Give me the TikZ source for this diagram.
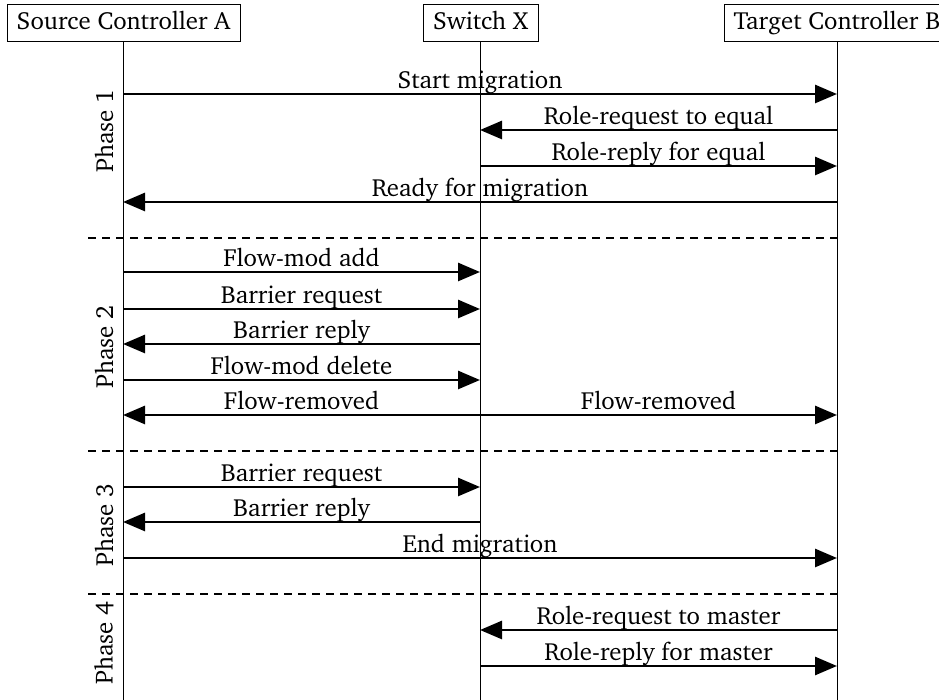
\documentclass[tikz,border=0pt]{standalone}
\usepackage[T1]{fontenc}
\usepackage{charter}
\usetikzlibrary{arrows.meta}
\begin{document}
\begin{tikzpicture}[x=0.5pt,y=-0.5pt,
  every node/.style={font=\fontsize{12.4}{14}\selectfont},
  actor/.style={draw,line width=0.5pt,inner sep=0pt,minimum height=18.5pt,text height=8.6pt,text depth=2.4pt},
  lifeline/.style={line width=0.5pt},
  msg/.style={line width=1.4pt,-{Triangle[length=11pt,width=9pt]}},
  lbl/.style={anchor=base,inner sep=0pt,yshift=2.6pt},
  sep/.style={line width=0.8pt,dash pattern=on 4pt off 3pt},
  phase/.style={rotate=90}]
\useasboundingbox (0,0) rectangle (939,700);
\begin{scope}
\clip (0,0) rectangle (939,700);
% participants
\node[actor,minimum width=116.5pt] (A) at (123.5,23.5) {Source Controller A};
\node[actor,minimum width=57.5pt] (X) at (480.5,23.5) {Switch X};
\node[actor,minimum width=113pt] (B) at (837,23) {Target Controller B};
% lifelines
\coordinate (Aend) at (123,700);
\coordinate (Xend) at (480,700);
\coordinate (Bend) at (837,700);
\draw[lifeline] (A.south -| Aend) -- (Aend);
\draw[lifeline] (X.south -| Xend) -- (Xend);
\draw[lifeline] (B.south -| Bend) -- (Bend);
\end{scope}
% message anchor points on the lifelines
\foreach \n/\y in {1/94,2/130,3/166,4/202,5/272,6/309,7/344,8/380,9/415,10/487,11/522,12/558,13/630,14/666}{
  \coordinate (a\n) at (123,\y);
  \coordinate (x\n) at (480,\y);
  \coordinate (b\n) at (837,\y);
}
% phase separators
\foreach \n/\y in {1/238,2/451,3/594}{
  \coordinate (s\n l) at (88,\y);
  \coordinate (s\n r) at (837,\y);
  \draw[sep] (s\n l) -- (s\n r);
}
% phase 1
\draw[msg] (a1) -- node[lbl] {Start migration} (b1);
\draw[msg] (b2) -- node[lbl] {Role-request to equal} (x2);
\draw[msg] (x3) -- node[lbl] {Role-reply for equal} (b3);
\draw[msg] (b4) -- node[lbl] {Ready for migration} (a4);
% phase 2
\draw[msg] (a5) -- node[lbl] {Flow-mod add} (x5);
\draw[msg] (a6) -- node[lbl] {Barrier request} (x6);
\draw[msg] (x7) -- node[lbl] {Barrier reply} (a7);
\draw[msg] (a8) -- node[lbl] {Flow-mod delete} (x8);
\draw[msg] (x9) -- node[lbl] {Flow-removed} (a9);
\draw[msg] (x9) -- node[lbl] {Flow-removed} (b9);
% phase 3
\draw[msg] (a10) -- node[lbl] {Barrier request} (x10);
\draw[msg] (x11) -- node[lbl] {Barrier reply} (a11);
\draw[msg] (a12) -- node[lbl] {End migration} (b12);
% phase 4
\draw[msg] (b13) -- node[lbl] {Role-request to master} (x13);
\draw[msg] (x14) -- node[lbl] {Role-reply for master} (b14);
% phase labels
\node[phase] (p1) at (104,131) {Phase 1};
\node[phase] (p2) at (104,347) {Phase 2};
\node[phase] (p3) at (104,525) {Phase 3};
\node[phase] (p4) at (104,643) {Phase 4};
\end{tikzpicture}
\end{document}
